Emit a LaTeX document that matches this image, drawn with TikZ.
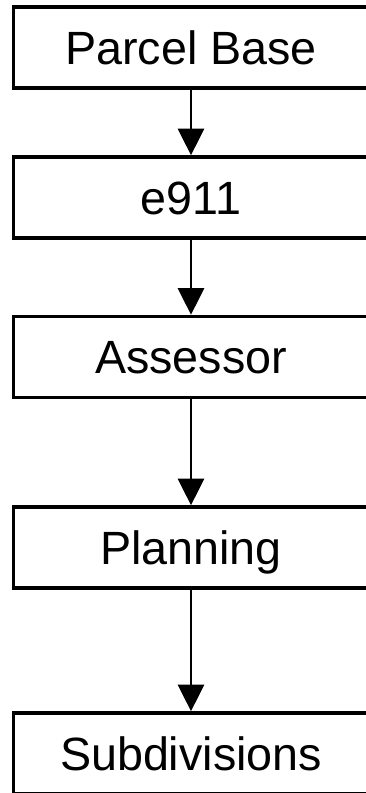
\documentclass[tikz,border=0pt]{standalone}
\usepackage{fontspec}
\setmainfont{Liberation Sans}
\usetikzlibrary{arrows.meta}
\begin{document}
\begin{tikzpicture}
    [x=0.75pt, y=-0.75pt,
      every node/.style={draw, rectangle, line width=2.6pt, inner sep=0pt,
        minimum width=266pt, minimum height=60.75pt,
        text height=25pt, text depth=0pt,
        font=\fontsize{35pt}{42pt}\selectfont},
      flow/.style={line width=2.2pt, -{Triangle[width=19.5pt, length=20pt]}}]
    \useasboundingbox (0,0) rectangle (366,793);
    \node (parcel) at (191,47.5) {Parcel Base};
    \node (enine) at (191,197.5) {e911};
    \node (assessor) at (191,357) {Assessor};
    \node (planning) at (191,547.5) {Planning};
    \node (subdiv) at (191,753.5) {Subdivisions};
    \draw[flow] (parcel) -- (enine);
    \draw[flow] (enine) -- (assessor);
    \draw[flow] (assessor) -- (planning);
    \draw[flow] (planning) -- (subdiv);
  \end{tikzpicture}
\end{document}
